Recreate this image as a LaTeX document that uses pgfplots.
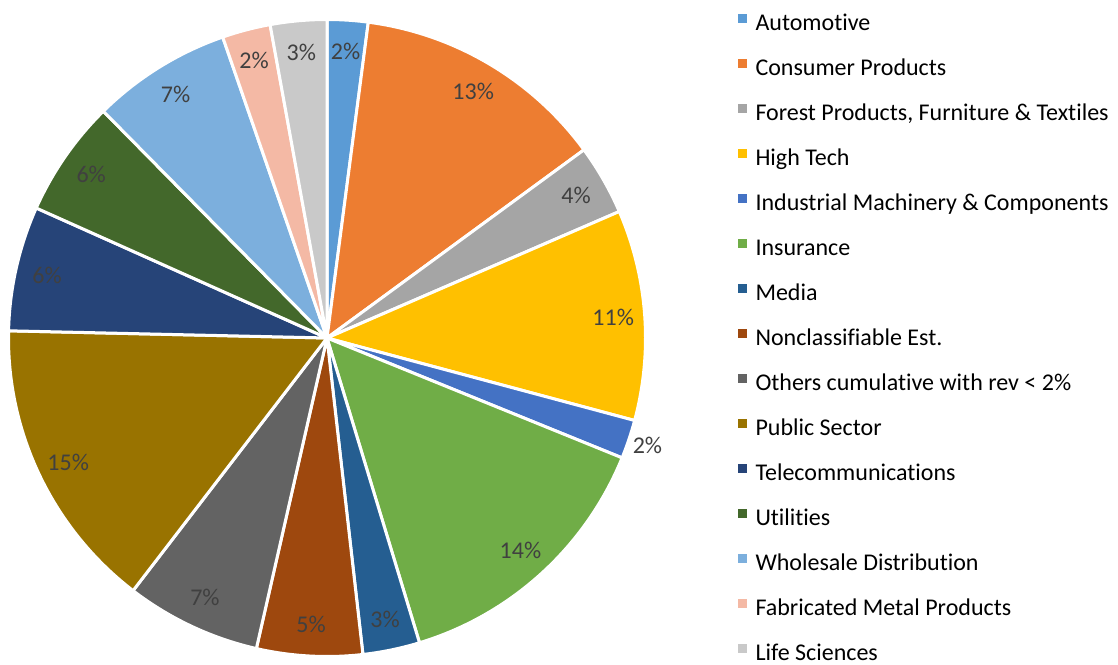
\documentclass[border=0pt]{standalone}
\usepackage{fontspec}
\setmainfont{Carlito}[Ligatures=NoCommon]
\usepackage{pgfplots}
\pgfplotsset{compat=1.18}
\definecolor{cAuto}{HTML}{5B9BD5}
\definecolor{cCons}{HTML}{ED7D31}
\definecolor{cFor}{HTML}{A5A5A5}
\definecolor{cHigh}{HTML}{FFC000}
\definecolor{cInd}{HTML}{4472C4}
\definecolor{cIns}{HTML}{70AD47}
\definecolor{cMed}{HTML}{255E91}
\definecolor{cNon}{HTML}{9E480E}
\definecolor{cOth}{HTML}{636363}
\definecolor{cPub}{HTML}{997300}
\definecolor{cTel}{HTML}{264478}
\definecolor{cUti}{HTML}{43682B}
\definecolor{cWho}{HTML}{7CAFDD}
\definecolor{cFab}{HTML}{F4B9A5}
\definecolor{cLif}{HTML}{C9C9C9}
\definecolor{labelgray}{HTML}{404040}
\newcommand{\piefont}{\fontsize{24}{28}\selectfont}
\def\piecum{0}
\def\pieR{318.5}
% #1 value (%), #2 colour, #3 legend text, #4 label radius, #5 label text
\newcommand{\pieslice}[5]{%
  \pgfmathsetmacro{\pieA}{\piecum*3.6}%
  \pgfmathsetmacro{\pieB}{(\piecum+#1)*3.6}%
  \pgfmathsetmacro{\pieM}{(\pieA+\pieB)/2}%
  \pgfmathsetmacro{\pieLX}{#4*sin(\pieM)}%
  \pgfmathsetmacro{\pieLY}{#4*cos(\pieM)}%
  \edef\doslice{\noexpand\addplot[fill=#2, draw=white, line width=3pt, line join=round, domain=\pieA:\pieB, samples=80] ({\pieR*sin(x)},{\pieR*cos(x)}) -- (axis cs:0,0) -- cycle;}%
  \doslice
  \addlegendentry{#3}%
  \edef\dolabel{\noexpand\node[font=\noexpand\piefont, text=labelgray, inner sep=0pt] at (axis cs:\pieLX,\pieLY) {\unexpanded{#5}};}%
  \dolabel
  \pgfmathsetmacro{\pienew}{\piecum+#1}%
  \global\let\piecum\pienew
}
\begin{document}
\piefont
\begin{tikzpicture}
\useasboundingbox (0,0) rectangle (1118pt,664pt);
\begin{axis}[
  at={(327pt,326pt)}, anchor=center,
  scale only axis, width=637pt, height=637pt,
  xmin=-318.5, xmax=318.5, ymin=-318.5, ymax=318.5,
  hide axis, clip=false,
  legend image code/.code={\fill[#1, draw=none] (0pt,2pt) rectangle (9pt,11pt); \path (16pt,0pt);},
  legend cell align=left,
  legend style={at={(1.1452,1.0102)}, anchor=north west, draw=none, fill=none,
    inner sep=0pt, outer sep=0pt, row sep=22.07pt, font=\piefont,
    nodes={inner sep=0pt, text height=17pt, text depth=6pt}},
]
\pieslice{2.07}{cAuto}{Automotive}{287}{2\%}
\pieslice{12.87}{cCons}{Consumer Products}{287}{13\%}
\pieslice{3.56}{cFor}{Forest Products, Furniture \& Textiles}{287}{4\%}
\pieslice{10.67}{cHigh}{High Tech}{287}{11\%}
\pieslice{1.97}{cInd}{Industrial Machinery \& Components}{338}{2\%}
\pieslice{14.17}{cIns}{Insurance}{287}{14\%}
\pieslice{2.89}{cMed}{Media}{287}{3\%}
\pieslice{5.36}{cNon}{Nonclassifiable Est.}{287}{5\%}
\pieslice{6.86}{cOth}{Others cumulative with rev < 2\%}{287}{7\%}
\pieslice{14.94}{cPub}{Public Sector}{287}{15\%}
\pieslice{6.33}{cTel}{Telecommunications}{287}{6\%}
\pieslice{5.92}{cUti}{Utilities}{287}{6\%}
\pieslice{7.08}{cWho}{Wholesale Distribution}{287}{7\%}
\pieslice{2.45}{cFab}{Fabricated Metal Products}{287}{2\%}
\pieslice{2.86}{cLif}{Life Sciences}{287}{3\%}
\end{axis}
\end{tikzpicture}
\end{document}
